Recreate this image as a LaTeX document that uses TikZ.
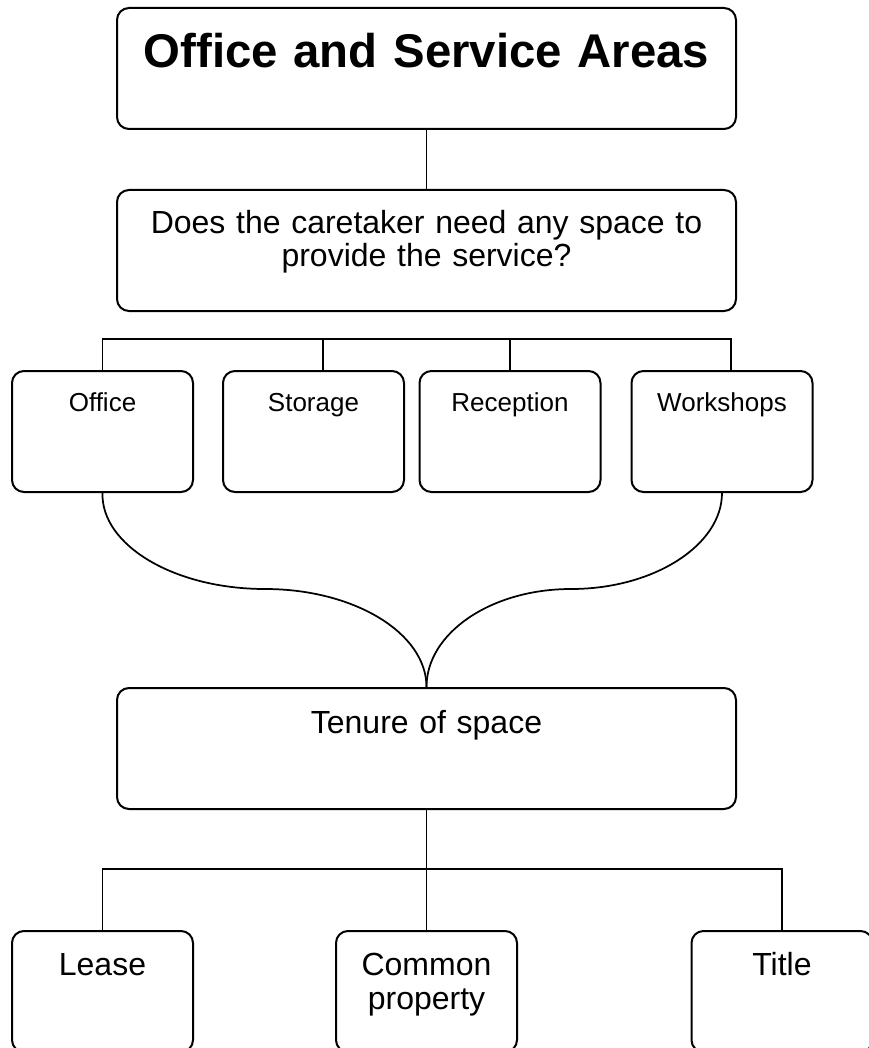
\documentclass[tikz,border=0pt]{standalone}
\usepackage{fontspec}
\setmainfont{Liberation Sans}

\tikzset{every picture/.style={line width=0.75pt}}
\tikzset{
  box/.style={draw, rounded corners=9pt, line width=1.5pt, anchor=north,
    inner xsep=0pt, inner ysep=0pt, align=center},
  widebox/.style={box, text width=464.25pt},
  smallbox/.style={box, text width=135.75pt},
  link/.style={line width=1.3pt}
}

\begin{document}
\begin{tikzpicture}[x=0.75pt,y=0.75pt,yscale=-1,xscale=1]
\useasboundingbox (0,0) rectangle (868,1048);

% Heading and question
\node [widebox, text height=45pt, text depth=45.75pt, font=\fontsize{35.5}{40}\selectfont\bfseries] (areas) at (426.5,7) {Office and Service Areas};
\node [widebox, text height=33pt, text depth=57.75pt, font=\fontsize{24}{24.5}\selectfont] (question) at (426.5,189) {Does the caretaker need any space to\\provide the service?};

% Kinds of space
\node [smallbox, text height=30pt, text depth=60.75pt, font=\fontsize{19.5}{22}\selectfont] (office) at (102.5,370) {Office};
\node [smallbox, text height=30pt, text depth=60.75pt, font=\fontsize{19.5}{22}\selectfont] (storage) at (313.5,370) {Storage};
\node [smallbox, text height=30pt, text depth=60.75pt, font=\fontsize{19.5}{22}\selectfont] (reception) at (510,370) {Reception};
\node [smallbox, text height=30pt, text depth=60.75pt, font=\fontsize{19.5}{22}\selectfont] (workshops) at (722,370) {Workshops};

% Tenure
\node [widebox, text height=33.75pt, text depth=57pt, font=\fontsize{24}{25}\selectfont] (tenure) at (426.5,687) {Tenure of space};
\node [smallbox, text height=33pt, text depth=57.75pt, font=\fontsize{24}{25}\selectfont] (lease) at (102.5,930) {Lease};
\node [smallbox, text height=33pt, text depth=57.75pt, font=\fontsize{24}{25.5}\selectfont] (common) at (426.5,930) {Common\\property};
\node [smallbox, text height=33pt, text depth=57.75pt, font=\fontsize{24}{25}\selectfont] (title) at (782,930) {Title};

% Upper links
\draw [link] (areas.south) -- (question.north);
\coordinate (stdrop) at ([xshift=7pt]storage.north);
\coordinate (wkdrop) at ([xshift=7pt]workshops.north);
\draw [link] (office.north) -- ++(0,-31) -| (wkdrop);
\draw [link] (stdrop) -- ++(0,-31);
\draw [link] (reception.north) -- ++(0,-31);

% Curves into tenure
\coordinate (lmid) at (265,589);
\coordinate (rmid) at (571,589);
\draw [link] (office.south) .. controls (101,545) and (174,589) .. (lmid) .. controls (354,589) and (426.5,633) .. (tenure.north);
\draw [link] (workshops.south) .. controls (722,545) and (654,589) .. (rmid) .. controls (491,589) and (426.5,633) .. (tenure.north);

% Lower links
\draw [link] (tenure.south) -- (common.north);
\draw [link] (lease.north) -- ++(0,-61) -| (title.north);

\end{tikzpicture}
\end{document}
